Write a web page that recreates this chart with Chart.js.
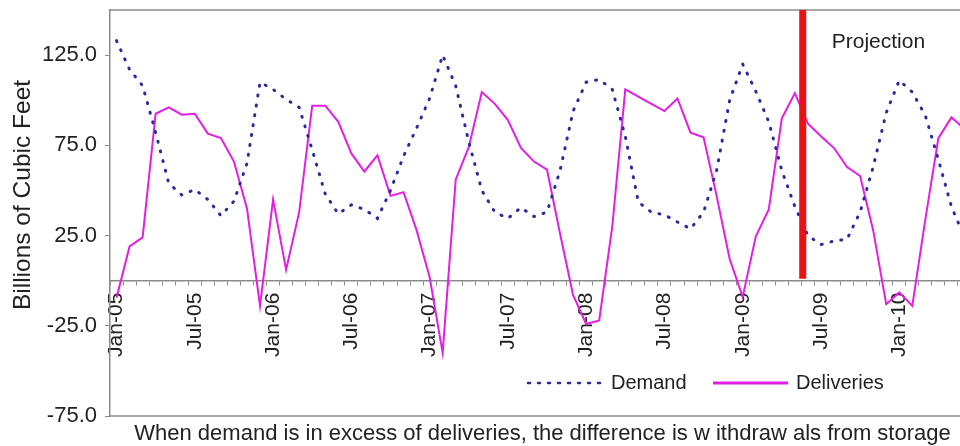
<!DOCTYPE html>
<html>
<head>
<meta charset="utf-8">
<script src="https://cdn.jsdelivr.net/npm/chart.js@4/dist/chart.umd.min.js"></script>
<style>
html,body{margin:0;padding:0;background:#fff;overflow:hidden;}
</style>
</head>
<body>
<canvas id="chartGas" width="971" height="446"></canvas>
<script>

/* DONNEES */

let months=[
"Jan-05","Feb-05","Mar-05","Apr-05","May-05","Jun-05","Jul-05","Aug-05","Sep-05","Oct-05","Nov-05","Dec-05",
"Jan-06","Feb-06","Mar-06","Apr-06","May-06","Jun-06","Jul-06","Aug-06","Sep-06","Oct-06","Nov-06","Dec-06",
"Jan-07","Feb-07","Mar-07","Apr-07","May-07","Jun-07","Jul-07","Aug-07","Sep-07","Oct-07","Nov-07","Dec-07",
"Jan-08","Feb-08","Mar-08","Apr-08","May-08","Jun-08","Jul-08","Aug-08","Sep-08","Oct-08","Nov-08","Dec-08",
"Jan-09","Feb-09","Mar-09","Apr-09","May-09","Jun-09","Jul-09","Aug-09","Sep-09","Oct-09","Nov-09","Dec-09",
"Jan-10","Feb-10","Mar-10","Apr-10","May-10","Jun-10"
];

let demand=[
133,117,108,82,54,47.5,50.5,45,36,44,65,110,
106,100.5,96,72.5,48,37,42,39.5,34.5,50,69,84.5,
101,125,108,77,50,38,34.5,40.5,35.5,38,61,94,
110,111.5,106,80,43.5,38,36.5,32.5,28.7,38,61,100,
120,105,88,61,41,25,20,22,23,38,63,93,
111,104.5,91.5,67,41,24
];

let deliveries=[
-9.5,19,24,92.5,96,92,92.5,81.5,79,66,40,-14,
45,6,38,97,97,88,70.5,60.5,69.5,47,49,28,
2,-40,56,74,104.5,98,89,73.5,66,61.5,26,-8,
-24,-22,30,106,102,98,94,101,82,79.5,47,12,
-9,24.5,39.5,90,104,87,80,73.5,63,58,28,-13,
-6.5,-14,34,79,90.5,84
];

let yTicks=[-75,-25,25,75,125];

let projectionAt=52.6; // entre May-09 et Jun-09

let fontFamily='"Liberation Sans", Arial, sans-serif';
let textColor='#222';
let axisColor='#8a8a8a';

/* DECOR : cadre, ligne rouge, legende, textes */

let decorPlugin={
id:'decor',

afterDatasetsDraw(chart){

let ctx=chart.ctx;
let area=chart.chartArea;
let x=chart.scales.x;
let y=chart.scales.y;

ctx.save();

/* cadre haut et bas */
ctx.strokeStyle=axisColor;
ctx.lineWidth=1.5;
ctx.beginPath();
ctx.moveTo(area.left,area.top);
ctx.lineTo(area.right,area.top);
ctx.moveTo(area.left,area.bottom);
ctx.lineTo(area.right,area.bottom);
ctx.stroke();

/* ligne rouge projection */
let px=x.getPixelForValue(projectionAt);
ctx.strokeStyle='#ee1111';
ctx.lineWidth=7;
ctx.beginPath();
ctx.moveTo(px,area.top);
ctx.lineTo(px,y.getPixelForValue(0)-2);
ctx.stroke();

ctx.fillStyle=textColor;
ctx.font='21px '+fontFamily;
ctx.textBaseline='middle';
ctx.textAlign='left';
ctx.fillText('Projection',px+29,area.top+32);

/* legende */
let ly=area.bottom-33;
let lx=area.left+418;
let ds=chart.data.datasets;

ctx.font='20px '+fontFamily;
ctx.lineCap='round';
ctx.strokeStyle=ds[0].borderColor;
ctx.lineWidth=2.5;
ctx.setLineDash([2,8]);
ctx.beginPath();
ctx.moveTo(lx,ly);
ctx.lineTo(lx+75,ly);
ctx.stroke();
ctx.setLineDash([]);
ctx.fillText(ds[0].label,lx+83,ly);

ctx.lineCap='butt';
ctx.strokeStyle=ds[1].borderColor;
ctx.lineWidth=3;
ctx.beginPath();
ctx.moveTo(lx+185,ly);
ctx.lineTo(lx+260,ly);
ctx.stroke();
ctx.fillText(ds[1].label,lx+268,ly);

/* titre axe y */
ctx.save();
ctx.translate(23,195);
ctx.rotate(-Math.PI/2);
ctx.textAlign='center';
ctx.font='24.5px '+fontFamily;
ctx.fillText('Billions of Cubic Feet',0,0);
ctx.restore();

/* note en bas */
ctx.textAlign='center';
ctx.font='22px '+fontFamily;
ctx.fillText('When demand is in excess of deliveries, the difference is w ithdraw als from storage',(area.left+area.right)/2+2,area.bottom+18);

ctx.restore();

}
};

/* GRAPH */

new Chart(document.getElementById('chartGas'),{

type:'line',

data:{
labels:months,
datasets:[
{
label:'Demand',
data:demand,
borderColor:'#2a2a9c',
borderWidth:3,
borderDash:[1,9],
borderCapStyle:'round',
pointRadius:0,
tension:0,
fill:false
},
{
label:'Deliveries',
data:deliveries,
borderColor:'#e41ee4',
borderWidth:2,
pointRadius:0,
tension:0,
fill:false
}
]
},

options:{
responsive:false,
animation:false,
events:[],
layout:{padding:{top:10,bottom:30,left:0,right:0}},

plugins:{
legend:{display:false},
tooltip:{enabled:false}
},

scales:{

x:{
type:'category',
position:{y:0},
offset:true,
afterFit:function(s){
s.paddingLeft=0;s.paddingRight=0;s.paddingTop=0;s.paddingBottom=0;
},
grid:{drawOnChartArea:false,offset:true,tickLength:4,color:axisColor},
border:{color:axisColor,width:1.5},
ticks:{
autoSkip:false,
minRotation:90,
maxRotation:90,
padding:8,
color:textColor,
font:{size:21,family:fontFamily},
callback:function(v,i){
return i%6===0 ? this.getLabelForValue(v) : '';
}
}
},

y:{
min:-75,
max:150,
afterBuildTicks:function(s){
s.ticks=yTicks.map(v=>({value:v}));
},
afterFit:function(s){
s.width=110;
s.paddingTop=0;s.paddingBottom=0;
},
grid:{drawOnChartArea:false,tickLength:5,color:axisColor},
border:{color:axisColor,width:1.5},
ticks:{
padding:8,
color:textColor,
font:{size:22,family:fontFamily},
callback:v=>v.toFixed(1)
}
}

}

},

plugins:[decorPlugin]

});

</script>
</body>
</html>
